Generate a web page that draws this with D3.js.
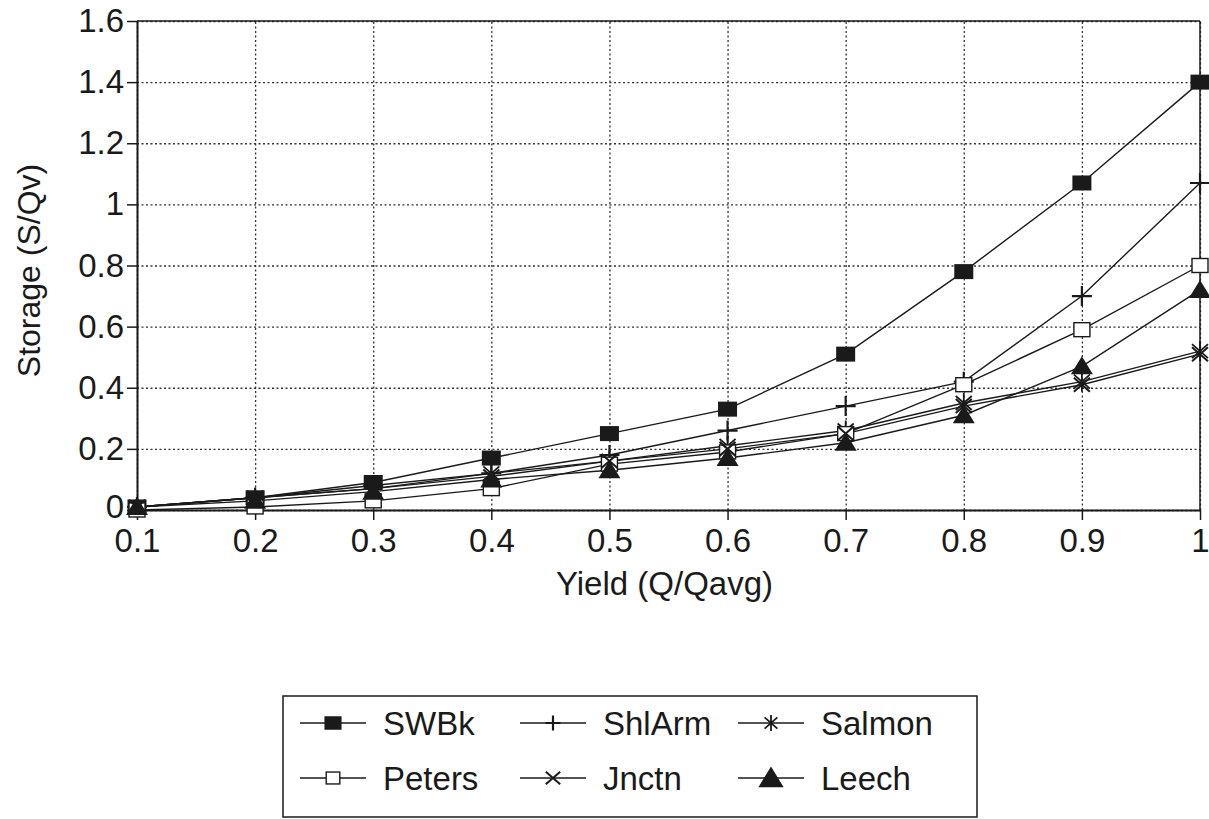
<!DOCTYPE html>
<html>
<head>
<meta charset="utf-8">
<script src="https://cdn.jsdelivr.net/npm/d3@7"></script>
<style>
  html, body { margin: 0; padding: 0; background: #fff; }
  svg { display: block; font-family: "Liberation Sans", Arial, Helvetica, sans-serif; }
</style>
</head>
<body>
<svg id="chart" width="1209" height="819"></svg>
<script>
// ---- data ----
const yields = [0.1, 0.2, 0.3, 0.4, 0.5, 0.6, 0.7, 0.8, 0.9, 1.0];
const swbk   = [0.01, 0.04, 0.09, 0.17, 0.25, 0.33, 0.51, 0.78, 1.07, 1.40];
const shlarm = [0.01, 0.04, 0.08, 0.12, 0.18, 0.26, 0.34, 0.42, 0.70, 1.07];
const salmon = [0.01, 0.04, 0.07, 0.12, 0.16, 0.21, 0.26, 0.35, 0.42, 0.52];
const peters = [0.00, 0.01, 0.03, 0.07, 0.15, 0.19, 0.25, 0.41, 0.59, 0.80];
const jnctn  = [0.01, 0.04, 0.07, 0.11, 0.16, 0.20, 0.25, 0.34, 0.41, 0.51];
const leech  = [0.01, 0.03, 0.06, 0.10, 0.13, 0.17, 0.22, 0.31, 0.47, 0.72];
const seriesNames = ["SWBk", "ShlArm", "Salmon", "Peters", "Jnctn", "Leech"];
const seriesMarkers = ["filledSquare", "plus", "asterisk", "openSquare", "cross", "triangle"];
const xTicks = [0.1, 0.2, 0.3, 0.4, 0.5, 0.6, 0.7, 0.8, 0.9, 1];
const yTicks = [0, 0.2, 0.4, 0.6, 0.8, 1, 1.2, 1.4, 1.6];
const xTitle = "Yield (Q/Qavg)";
const yTitle = "Storage (S/Qv)";

const seriesValues = [swbk, shlarm, salmon, peters, jnctn, leech];
const series = seriesNames.map((name, i) => ({
  name, marker: seriesMarkers[i],
  points: yields.map((x, j) => ({ x, y: seriesValues[i][j] }))
}));

// ---- layout ----
const svg = d3.select("#chart");
const m = { left: 137, top: 21, right: 1200, bottom: 510 };
const x = d3.scaleLinear().domain([0.1, 1]).range([m.left, m.right]);
const y = d3.scaleLinear().domain([0, 1.6]).range([m.bottom, m.top]);
const INK = "#1a1a1a";
const FS = 33;

// gridlines
const gx = svg.append("g").attr("transform", `translate(0,${m.bottom})`)
  .call(d3.axisBottom(x).tickValues(xTicks).tickSize(-(m.bottom - m.top)).tickFormat(""));
gx.select(".domain").remove();
gx.selectAll("line").attr("stroke", "#333").attr("stroke-width", 1.3).attr("stroke-dasharray", "2,2.5");
const gy = svg.append("g").attr("transform", `translate(${m.left},0)`)
  .call(d3.axisLeft(y).tickValues(yTicks).tickSize(-(m.right - m.left)).tickFormat(""));
gy.select(".domain").remove();
gy.selectAll("line").attr("stroke", "#333").attr("stroke-width", 1.3).attr("stroke-dasharray", "2,2.5");

// frame top & right
svg.append("line").attr("x1", m.left).attr("x2", m.right).attr("y1", m.top).attr("y2", m.top)
  .attr("stroke", INK).attr("stroke-width", 1.5);
svg.append("line").attr("x1", m.right).attr("x2", m.right).attr("y1", m.top).attr("y2", m.bottom)
  .attr("stroke", INK).attr("stroke-width", 1.5);

// axes
const ax = svg.append("g").attr("transform", `translate(0,${m.bottom})`)
  .call(d3.axisBottom(x).tickValues(xTicks).tickSize(10).tickSizeOuter(0).tickPadding(9)
    .tickFormat(d => String(d)));
ax.select(".domain").attr("stroke", INK).attr("stroke-width", 2);
ax.selectAll("line").attr("stroke", INK).attr("stroke-width", 1.5);
ax.selectAll("text").attr("font-size", FS).attr("fill", INK).attr("font-family", null);

const ay = svg.append("g").attr("transform", `translate(${m.left},0)`)
  .call(d3.axisLeft(y).tickValues(yTicks).tickSize(10).tickSizeOuter(0).tickPadding(3)
    .tickFormat(d => String(+d.toFixed(1))));
ay.select(".domain").attr("stroke", INK).attr("stroke-width", 2);
ay.selectAll("line").attr("stroke", INK).attr("stroke-width", 1.5);
ay.selectAll("text").attr("font-size", FS).attr("fill", INK).attr("font-family", null);
ay.selectAll(".tick").filter(d => d === 0).select("text").attr("y", -3);

// titles
svg.append("text").attr("x", (m.left + m.right) / 2 - 4).attr("y", 595)
  .attr("text-anchor", "middle").attr("font-size", 33).attr("fill", INK).text(xTitle);
svg.append("text").attr("transform", `translate(40,${(m.top + m.bottom) / 2 + 5}) rotate(-90)`)
  .attr("text-anchor", "middle").attr("font-size", 32).attr("fill", INK).text(yTitle);

// marker drawing
function drawMarker(g, type, cx, cy, s) {
  const k = s || 1;
  switch (type) {
    case "filledSquare":
      g.append("rect").attr("x", cx - 9.5 * k).attr("y", cy - 7.5 * k).attr("width", 19 * k).attr("height", 15 * k)
        .attr("fill", INK); break;
    case "openSquare":
      g.append("rect").attr("x", cx - 8 * k).attr("y", cy - 7 * k).attr("width", 16 * k).attr("height", 14 * k)
        .attr("fill", "#fff").attr("stroke", INK).attr("stroke-width", 1.4); break;
    case "plus":
      g.append("path").attr("d", `M${cx - 10 * k},${cy}H${cx + 10 * k}M${cx},${cy - 10 * k}V${cy + 10 * k}`)
        .attr("stroke", INK).attr("stroke-width", 2.2).attr("fill", "none"); break;
    case "cross":
      g.append("path").attr("d", `M${cx - 8 * k},${cy - 7 * k}L${cx + 8 * k},${cy + 7 * k}M${cx - 8 * k},${cy + 7 * k}L${cx + 8 * k},${cy - 7 * k}`)
        .attr("stroke", INK).attr("stroke-width", 2).attr("fill", "none"); break;
    case "asterisk":
      g.append("path").attr("d", `M${cx - 8 * k},${cy - 7 * k}L${cx + 8 * k},${cy + 7 * k}M${cx - 8 * k},${cy + 7 * k}L${cx + 8 * k},${cy - 7 * k}M${cx},${cy - 10 * k}V${cy + 10 * k}`)
        .attr("stroke", INK).attr("stroke-width", 1.8).attr("fill", "none"); break;
    case "triangle":
      g.append("path").attr("d", `M${cx},${cy - 10 * k}L${cx + 11 * k},${cy + 8 * k}L${cx - 11 * k},${cy + 8 * k}Z`)
        .attr("fill", INK); break;
  }
}

// lines
const line = d3.line().x(d => x(d.x)).y(d => y(d.y));
const plot = svg.append("g");
series.forEach(s => {
  plot.append("path").datum(s.points).attr("d", line)
    .attr("fill", "none").attr("stroke", INK).attr("stroke-width", 1.4);
});
series.forEach(s => {
  const g = plot.append("g");
  s.points.forEach(p => drawMarker(g, s.marker, x(p.x), y(p.y), 1));
});

// legend
const lg = svg.append("g");
lg.append("rect").attr("x", 283).attr("y", 696).attr("width", 694).attr("height", 121)
  .attr("fill", "none").attr("stroke", INK).attr("stroke-width", 1.5);
const colX = [300, 520, 738];
const rowY = [723, 778];
const legendScale = { filledSquare: 0.9, openSquare: 0.85, plus: 0.75, asterisk: 0.8, cross: 0.9, triangle: 1.15 };
series.forEach((s, i) => {
  const cx0 = colX[i % 3], cy0 = rowY[Math.floor(i / 3)];
  lg.append("line").attr("x1", cx0).attr("x2", cx0 + 66).attr("y1", cy0).attr("y2", cy0)
    .attr("stroke", INK).attr("stroke-width", 1.4);
  drawMarker(lg, s.marker, cx0 + 33, cy0, legendScale[s.marker]);
  lg.append("text").attr("x", cx0 + 83).attr("y", cy0 + 12).attr("font-size", 33)
    .attr("fill", INK).text(s.name);
});
</script>
</body>
</html>
